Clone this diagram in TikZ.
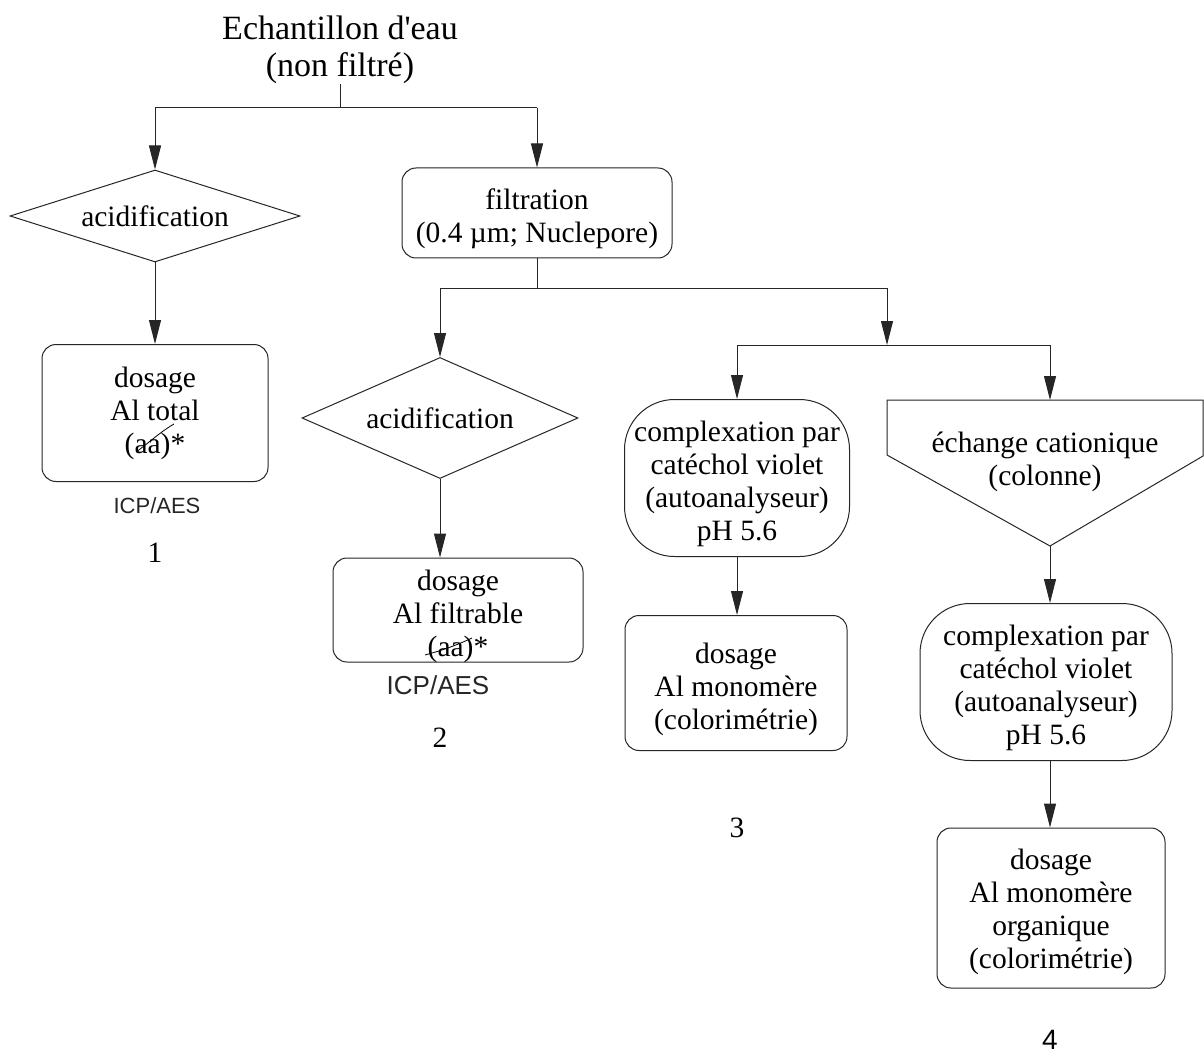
\documentclass[tikz,border=0pt]{standalone}
\usepackage{fontspec}
\setmainfont{Liberation Serif}
\newfontfamily\sansfam{Liberation Sans}
\usetikzlibrary{arrows.meta,shapes.geometric,calc}
\begin{document}
\begin{tikzpicture}[x=1pt,y=-1pt,
  txt/.style={font=\fontsize{29.5}{33}\selectfont, align=center, inner sep=0pt},
  box/.style={txt, draw=black!85, line width=1pt, rectangle, rounded corners=14pt},
  stadium/.style={txt, draw=black!85, line width=1pt, rectangle, rounded corners=50pt},
  dia/.style={txt, draw=black!85, line width=1pt, diamond},
  ln/.style={line width=1pt, draw=black!85},
  arr/.style={ln, -{Triangle[length=24pt,width=12pt]}},
  hand/.style={font=\sansfam\fontsize{22}{22}\selectfont, inner sep=0pt, text=black!85},
  numtxt/.style={font=\fontsize{29.5}{33}\selectfont, inner sep=0pt},
]
\useasboundingbox (0,0) rectangle (1204,1059);
\fill[white] (0,0) rectangle (1204,1059);

% title
\node[font=\fontsize{34}{37}\selectfont, align=center, inner sep=0pt] (title) at (340,50)
  {Echantillon d\textquotesingle eau\\(non filtré)};

% level 1
\node[dia, aspect=3.1, minimum width=290pt, minimum height=92pt] (dia1) at (155,216) {acidification};
\node[box, minimum width=226pt, minimum height=137pt] (b1) at (155,413) {dosage\\Al total\\(aa)*};
\node[hand] (icp1) at (157,506) {ICP/AES};
\node[numtxt] (n1) at (155,553) {1};

\node[box, minimum width=270pt, minimum height=90pt] (filt) at (537,213) {};
\node[txt] (filtt) at (537,219) {filtration\\(0.4 µm; Nuclepore)};

% level 2
\node[dia, aspect=2.3, minimum width=276pt, minimum height=121pt] (dia2) at (440,418) {acidification};
\node[box, minimum width=250pt, minimum height=104pt] (b2) at (458,610) {};
\node[txt] (b2t) at (458,616) {dosage\\Al filtrable\\(aa)*};
\node[hand, font=\sansfam\fontsize{26}{26}\selectfont] (icp2) at (438,685) {ICP/AES};
\node[numtxt] (n2) at (440,738) {2};

\node[stadium, minimum width=225pt, minimum height=157pt] (cx1) at (737,478) {};
\node[txt] (cx1t) at (737,484)
  {complexation par\\catéchol violet\\(autoanalyseur)\\pH 5.6};
\node[box, minimum width=222pt, minimum height=135pt] (b3) at (736,683) {};
\node[txt] (b3t) at (736,689)
  {dosage\\Al monomère\\(colorimétrie)};
\node[numtxt] (n3) at (737,828) {3};

% exchange shape
\coordinate (exT) at (1050,400);
\coordinate (exB) at (1050,546);
\draw[ln] (887,400) -- (1203,400) -- (1203,456) -- (exB) -- (887,455) -- cycle;
\node[txt] (exch) at (1045,462) {échange cationique\\(colonne)};

\node[stadium, minimum width=252pt, minimum height=157pt] (cx2) at (1046,682) {};
\node[txt] (cx2t) at (1046,688)
  {complexation par\\catéchol violet\\(autoanalyseur)\\pH 5.6};
\node[box, minimum width=228pt, minimum height=160pt] (b5) at (1051,908) {};
\node[txt] (b5t) at (1051,912)
  {dosage\\Al monomère\\organique\\(colorimétrie)};
\node[numtxt, font=\sansfam\fontsize{28}{31}\selectfont] (n4) at (1050,1040) {4};

% strike-through marks on (aa)
\draw[line width=0.8pt] (136,452) .. controls (150,442) and (160,432) .. (174,424);
\draw[line width=0.8pt] (425,655) .. controls (440,651) and (455,646) .. (472,638);

% connectors
\coordinate (h1) at (0,108);
\draw[ln] (title.south) -- (title.south |- h1);
\draw[ln] (dia1.north |- h1) -- (filt.north |- h1);
\draw[arr] (dia1.north |- h1) -- (dia1.north);
\draw[arr] (filt.north |- h1) -- (filt.north);
\draw[arr] (dia1.south) -- (b1.north -| dia1.south);

\coordinate (h2) at (0,288);
\coordinate (h3) at (0,345);
\draw[ln] (filt.south) -- (filt.south |- h2);
\draw[ln] (dia2.north |- h2) -- (887,288) coordinate (h2r);
\draw[arr] (dia2.north |- h2) -- (dia2.north);
\draw[arr] (dia2.south) -- (dia2.south |- b2.north);
\draw[arr] (h2r) -- (h2r |- h3) coordinate (h3m);
\draw[ln] (cx1.north |- h3) -- (exT |- h3);
\draw[arr] (cx1.north |- h3) -- (cx1.north);
\draw[arr] (exT |- h3) -- (exT);
\draw[arr] (cx1.south) -- (cx1.south |- b3.north);
\draw[arr] (exB) -- (exB |- cx2.north);
\draw[arr] (cx2.south -| exB) -- (exB |- b5.north);
\end{tikzpicture}
\end{document}
